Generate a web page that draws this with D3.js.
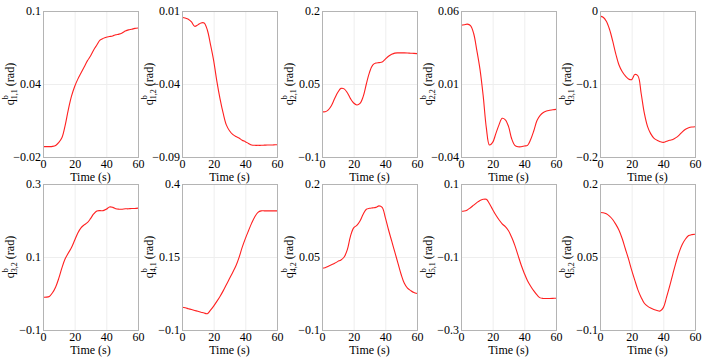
<!DOCTYPE html>
<html>
<head>
<meta charset="utf-8">
<script src="https://cdn.jsdelivr.net/npm/d3@7"></script>
<style>
  body { margin: 0; background: #fff; }
  svg text { font-family: "Liberation Serif", Tinos, "DejaVu Serif", serif !important; }
</style>
</head>
<body>
<div id="chart"></div>
<script>
// time samples (s)
const time = [0,2,4,6,8,10,12,14,16,18,20,22,24,26,28,30,32,34,36,38,40,42,44,46,48,50,52,54,56,58,60];

// joint angles (rad)
const q11 = [-0.0115,-0.0115,-0.0115,-0.0113,-0.0105,-0.008,-0.004,0.006,0.019,0.030,0.038,0.044,0.049,0.054,0.059,0.063,0.068,0.072,0.076,0.0775,0.0785,0.079,0.0795,0.0805,0.081,0.082,0.0835,0.0845,0.085,0.0857,0.086];
const q12 = [0.0057,0.0052,0.0044,0.0025,-0.0005,0.0005,0.0018,0.0018,-0.003,-0.013,-0.024,-0.038,-0.050,-0.060,-0.068,-0.072,-0.0745,-0.076,-0.077,-0.0785,-0.0795,-0.0807,-0.0818,-0.082,-0.082,-0.082,-0.0819,-0.0818,-0.0818,-0.0817,-0.0816];
const q21 = [-0.007,-0.007,-0.003,0.006,0.020,0.033,0.041,0.040,0.032,0.020,0.011,0.007,0.010,0.024,0.050,0.074,0.089,0.093,0.094,0.095,0.101,0.107,0.111,0.1135,0.114,0.114,0.114,0.1138,0.1133,0.113,0.1125];
const q22 = [0.0503,0.0506,0.051,0.050,0.0446,0.033,0.020,0.002,-0.020,-0.0318,-0.030,-0.024,-0.018,-0.0135,-0.0145,-0.019,-0.0275,-0.032,-0.033,-0.033,-0.0325,-0.032,-0.028,-0.022,-0.015,-0.0115,-0.0095,-0.0085,-0.008,-0.0076,-0.0074];
const q31 = [-0.007,-0.0085,-0.014,-0.025,-0.041,-0.059,-0.074,-0.083,-0.089,-0.093,-0.094,-0.087,-0.089,-0.113,-0.140,-0.158,-0.168,-0.174,-0.177,-0.179,-0.180,-0.1785,-0.177,-0.176,-0.1735,-0.170,-0.1655,-0.162,-0.160,-0.159,-0.1586];
const q32 = [-0.01,-0.01,-0.008,0.002,0.018,0.042,0.071,0.095,0.111,0.126,0.146,0.166,0.180,0.188,0.194,0.205,0.218,0.226,0.227,0.227,0.231,0.237,0.236,0.232,0.231,0.231,0.232,0.232,0.233,0.233,0.234];
const q41 = [-0.022,-0.024,-0.027,-0.030,-0.033,-0.036,-0.039,-0.042,-0.044,-0.032,-0.018,-0.002,0.015,0.034,0.055,0.076,0.097,0.119,0.148,0.183,0.213,0.240,0.266,0.288,0.303,0.308,0.308,0.308,0.308,0.308,0.308];
const q42 = [0.027,0.028,0.031,0.034,0.037,0.041,0.044,0.050,0.065,0.093,0.110,0.115,0.124,0.138,0.148,0.150,0.151,0.152,0.155,0.152,0.131,0.106,0.083,0.060,0.037,0.014,-0.004,-0.014,-0.019,-0.023,-0.025];
const q51 = [0.0255,0.026,0.029,0.035,0.042,0.049,0.055,0.058,0.058,0.046,0.030,0.015,0.002,-0.009,-0.017,-0.028,-0.046,-0.068,-0.095,-0.122,-0.145,-0.165,-0.180,-0.193,-0.204,-0.212,-0.2135,-0.2135,-0.2135,-0.2133,-0.213];
const q52 = [0.1414,0.141,0.139,0.134,0.127,0.117,0.105,0.088,0.067,0.046,0.023,0.002,-0.018,-0.033,-0.045,-0.051,-0.055,-0.058,-0.060,-0.061,-0.054,-0.033,-0.010,0.015,0.039,0.060,0.076,0.087,0.094,0.096,0.0966];

// axis ticks and labels
const xTicks = [0, 20, 40, 60];
const subs = ['1,1','1,2','2,1','2,2','3,1','3,2','4,1','4,2','5,1','5,2'];
const yTicks = [
  [-0.02, 0.04, 0.1], [-0.09, -0.04, 0.01], [-0.1, 0.05, 0.2], [-0.04, 0.01, 0.06], [-0.2, -0.1, 0],
  [-0.1, 0.1, 0.3], [-0.1, 0.15, 0.4], [-0.1, 0.05, 0.2], [-0.3, -0.1, 0.1], [-0.1, 0.05, 0.2]
];
const series = [q11, q12, q21, q22, q31, q32, q41, q42, q51, q52];

const W = 708, H = 359;
const pw = 95, ph = 146;
const lefts = [43, 182, 322, 461, 600];
const tops = [11, 184];
const FONT = '"Liberation Serif", Tinos, "DejaVu Serif", serif';

const svg = d3.select('#chart').append('svg')
  .attr('width', W).attr('height', H)
  .style('font-family', FONT);

const fmt = v => (v < 0 ? '\u2212' : '') + String(Math.abs(v));

series.forEach((vals, i) => {
  const col = i % 5, row = Math.floor(i / 5);
  const g = svg.append('g')
    .attr('transform', `translate(${lefts[col]},${tops[row]})`);

  const x = d3.scaleLinear().domain([0, 60]).range([0, pw]);
  const yt = yTicks[i];
  const y = d3.scaleLinear().domain([yt[0], yt[2]]).range([ph, 0]);

  // faint grid
  g.append('g').selectAll('line').data([20, 40]).join('line')
    .attr('x1', d => x(d) + 0.5).attr('x2', d => x(d) + 0.5)
    .attr('y1', 0).attr('y2', ph)
    .attr('stroke', '#eeeeee').attr('stroke-width', 1);
  g.append('line')
    .attr('x1', 0).attr('x2', pw)
    .attr('y1', y(yt[1]) + 0.5).attr('y2', y(yt[1]) + 0.5)
    .attr('stroke', '#eeeeee').attr('stroke-width', 1);

  // line
  const pts = time.map((t, k) => [t, vals[k]]);
  g.append('path')
    .datum(pts)
    .attr('fill', 'none')
    .attr('stroke', '#ff2020')
    .attr('stroke-width', 1.1)
    .attr('d', d3.line().x(d => x(d[0])).y(d => y(d[1])).curve(d3.curveCatmullRom));

  // box
  g.append('rect')
    .attr('x', 0.5).attr('y', 0.5)
    .attr('width', pw).attr('height', ph)
    .attr('fill', 'none').attr('stroke', '#b4b4b4').attr('stroke-width', 1);

  // axes
  const xAxis = d3.axisBottom(x).tickValues(xTicks).tickSize(0).tickPadding(2).tickFormat(d => d);
  const yAxis = d3.axisLeft(y).tickValues(yt).tickSize(0).tickPadding(2).tickFormat(fmt);
  const xg = g.append('g').attr('transform', `translate(0,${ph})`).call(xAxis);
  const yg = g.append('g').call(yAxis);
  [xg, yg].forEach(a => {
    a.attr('font-family', FONT).attr('font-size', 12);
    a.select('.domain').remove();
    a.selectAll('text').attr('fill', '#000');
  });

  g.append('text')
    .attr('x', pw / 2).attr('y', ph + 24)
    .attr('text-anchor', 'middle')
    .attr('font-size', 12)
    .text('Time (s)');

  // y label with super/subscript
  const lab = g.append('text')
    .attr('transform', `translate(-29,${ph / 2}) rotate(-90)`)
    .attr('text-anchor', 'middle')
    .attr('font-size', 12);
  lab.append('tspan').text('q');
  lab.append('tspan').attr('font-size', 8).attr('dy', -6).text('b');
  lab.append('tspan').attr('font-size', 8).attr('dx', -4).attr('dy', 9).text(subs[i]);
  lab.append('tspan').attr('dy', -3).text(' (rad)');
});
</script>
</body>
</html>
